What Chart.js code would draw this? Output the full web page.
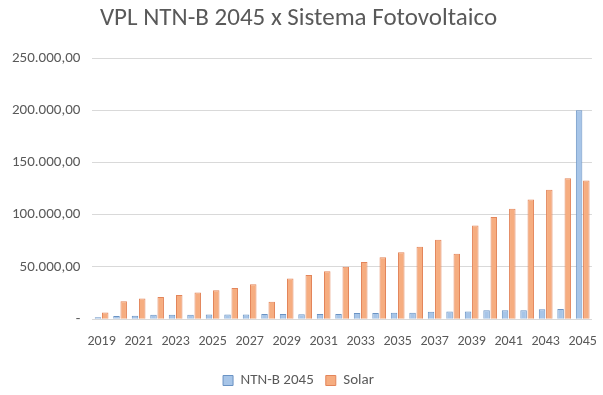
<!DOCTYPE html>
<html>
<head>
<meta charset="utf-8">
<script src="https://cdn.jsdelivr.net/npm/chart.js@4"></script>
<style>
  html, body { margin: 0; padding: 0; background: #fff; }
  #wrap { width: 603px; height: 395px; }
</style>
</head>
<body>
<div id="wrap"><canvas id="chart"></canvas></div>
<script>
const years = ['2019','2020','2021','2022','2023','2024','2025','2026','2027','2028','2029','2030','2031','2032',
               '2033','2034','2035','2036','2037','2038','2039','2040','2041','2042','2043','2044','2045'];
const ntnb = [1900, 3000, 3200, 4300, 4300, 4300, 4400, 4400, 4500, 5000, 5000, 4800, 4900, 5000,
              6000, 6000, 6100, 6100, 7200, 7300, 7300, 8500, 8600, 8600, 9600, 9700, 200000];
const solar = [6400, 17200, 19700, 21300, 23200, 25500, 27700, 29900, 33400, 16600, 38900, 42400, 45900, 50300,
               54800, 59200, 64000, 69400, 76100, 62700, 89800, 97800, 105700, 114600, 123900, 135000, 132800];
const yTicks = [0, 50000, 100000, 150000, 200000, 250000];

const grey = '#595959';
const font = 'Calibri, Carlito, "Open Sans", "Noto Sans", sans-serif';

function fmtBR(v) {
    if (v === 0) return '-';
    return v.toLocaleString('pt-BR', {minimumFractionDigits: 2, maximumFractionDigits: 2});
}

// nudge the legend a few pixels lower, like the Excel layout
const legendNudge = {
    id: 'legendNudge',
    afterLayout(chart) {
        chart.legend.top += 5;
        chart.legend.bottom += 5;
    }
};

new Chart(document.getElementById('chart').getContext('2d'), {
    type: 'bar',
    data: {
        labels: years,
        datasets: [{
            label: 'NTN-B 2045',
            data: ntnb,
            backgroundColor: '#a7c5e8',
            borderColor: '#6a93c4',
            borderWidth: 1
        }, {
            label: 'Solar',
            data: solar,
            backgroundColor: '#f6ad80',
            borderColor: '#e3855a',
            borderWidth: 1
        }]
    },
    plugins: [legendNudge],
    options: {
        responsive: true,
        maintainAspectRatio: false,
        animation: false,
        layout: {padding: {left: 0, right: 6, top: 2, bottom: 2}},
        datasets: {bar: {categoryPercentage: 0.78, barPercentage: 0.9}},
        plugins: {
            title: {
                display: true,
                text: 'VPL NTN-B 2045 x Sistema Fotovoltaico',
                color: grey,
                font: {family: font, size: 25, weight: 'normal'},
                padding: {top: 2, bottom: 24}
            },
            legend: {
                position: 'bottom',
                labels: {
                    color: grey,
                    font: {family: font, size: 15},
                    boxWidth: 10,
                    boxHeight: 10,
                    padding: 12
                }
            },
            tooltip: {enabled: false}
        },
        scales: {
            x: {
                grid: {display: false},
                border: {color: '#d9d9d9'},
                ticks: {
                    color: grey,
                    font: {family: font, size: 14},
                    maxRotation: 0,
                    autoSkip: false,
                    padding: 6,
                    callback: function (v, i) { return i % 2 === 0 ? years[i] : ''; }
                }
            },
            y: {
                min: yTicks[0],
                max: yTicks[yTicks.length - 1],
                afterBuildTicks: function (axis) { axis.ticks = yTicks.map(v => ({value: v})); },
                grid: {color: '#d9d9d9', drawTicks: false},
                border: {display: false},
                ticks: {
                    color: grey,
                    font: {family: font, size: 15},
                    padding: 12,
                    callback: fmtBR
                }
            }
        }
    }
});
</script>
</body>
</html>
